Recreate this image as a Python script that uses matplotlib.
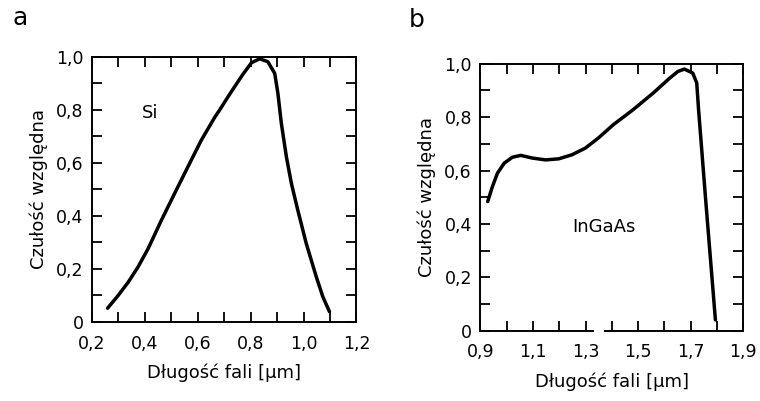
import numpy as np
import matplotlib.pyplot as plt

# data
si_x = [0.259, 0.299, 0.337, 0.375, 0.413, 0.463, 0.513, 0.563, 0.614, 0.664,
        0.683, 0.705, 0.733, 0.771, 0.803, 0.834, 0.865, 0.891, 0.903, 0.916,
        0.935, 0.954, 0.978, 1.01, 1.048, 1.073, 1.098]
si_y = [0.052, 0.100, 0.150, 0.209, 0.278, 0.385, 0.486, 0.586, 0.687, 0.772,
        0.80, 0.835, 0.878, 0.935, 0.978, 0.993, 0.982, 0.938, 0.863, 0.75,
        0.624, 0.523, 0.423, 0.297, 0.171, 0.095, 0.039]

ingaas_x = [0.928, 0.946, 0.965, 0.991, 1.022, 1.054, 1.097, 1.148, 1.198, 1.248,
            1.299, 1.349, 1.406, 1.481, 1.557, 1.62, 1.651, 1.676, 1.708, 1.723,
            1.73, 1.739, 1.757, 1.794]
ingaas_y = [0.484, 0.54, 0.59, 0.628, 0.65, 0.657, 0.647, 0.64, 0.644, 0.659,
            0.684, 0.722, 0.772, 0.828, 0.89, 0.946, 0.971, 0.98, 0.965, 0.928,
            0.828, 0.715, 0.49, 0.041]

y_ticks = [0, 0.2, 0.4, 0.6, 0.8, 1.0]
y_labels = ['0', '0,2', '0,4', '0,6', '0,8', '1,0']
a_xticks = [0.2, 0.4, 0.6, 0.8, 1.0, 1.2]
a_xlabels = ['0,2', '0,4', '0,6', '0,8', '1,0', '1,2']
b_xticks = [0.9, 1.1, 1.3, 1.5, 1.7, 1.9]
b_xlabels = ['0,9', '1,1', '1,3', '1,5', '1,7', '1,9']

ylab = 'Czułość względna'
xlab = 'Długość fali [μm]'

plt.rcParams['font.family'] = 'DejaVu Sans'
fig = plt.figure(figsize=(7.6, 4.01), dpi=100)

ax1 = fig.add_axes([0.121, 0.197, 0.348, 0.661])
ax2 = fig.add_axes([0.632, 0.175, 0.346, 0.666])

def style(ax, x0, x1, xt, xl):
  ax.set_xlim(x0, x1)
  ax.set_ylim(0, 1.0)
  ax.set_xticks(xt)
  ax.set_xticklabels(xl)
  ax.set_yticks(y_ticks)
  ax.set_yticklabels(y_labels)
  ax.set_xticks(np.arange(x0, x1 + 0.001, 0.1), minor=True)
  ax.set_yticks(np.arange(0, 1.001, 0.1), minor=True)
  ax.tick_params(which='both', direction='in', length=7, width=1.3,
                 top=True, right=True, labelsize=12.5, color='black')
  ax.tick_params(axis='x', which='major', pad=9)
  ax.tick_params(axis='y', which='major', pad=6)
  for s in ax.spines.values():
    s.set_linewidth(1.4)
  ax.set_ylabel(ylab, fontsize=13, labelpad=6)
  ax.set_xlabel(xlab, fontsize=13, labelpad=8)

style(ax1, 0.2, 1.2, a_xticks, a_xlabels)
style(ax2, 0.9, 1.9, b_xticks, b_xlabels)

ax1.plot(si_x, si_y, color='black', lw=2.5, solid_capstyle='round',
         solid_joinstyle='round')
ax2.plot(ingaas_x, ingaas_y, color='black', lw=2.5, solid_capstyle='round',
         solid_joinstyle='round')

ax1.text(0.42, 0.79, 'Si', fontsize=13, ha='center', va='center')
ax2.text(1.37, 0.39, 'InGaAs', fontsize=13, ha='center', va='center')

# break in the bottom axis of panel b
ax2.spines['bottom'].set_bounds(0.9, 1.33)
ax2.hlines(0, 1.37, 1.9, color='black', lw=1.4, clip_on=False)

fig.text(0.026, 0.955, 'a', fontsize=18, ha='center', va='center')
fig.text(0.548, 0.95, 'b', fontsize=18, ha='center', va='center')

plt.savefig('out.png', dpi=100)
